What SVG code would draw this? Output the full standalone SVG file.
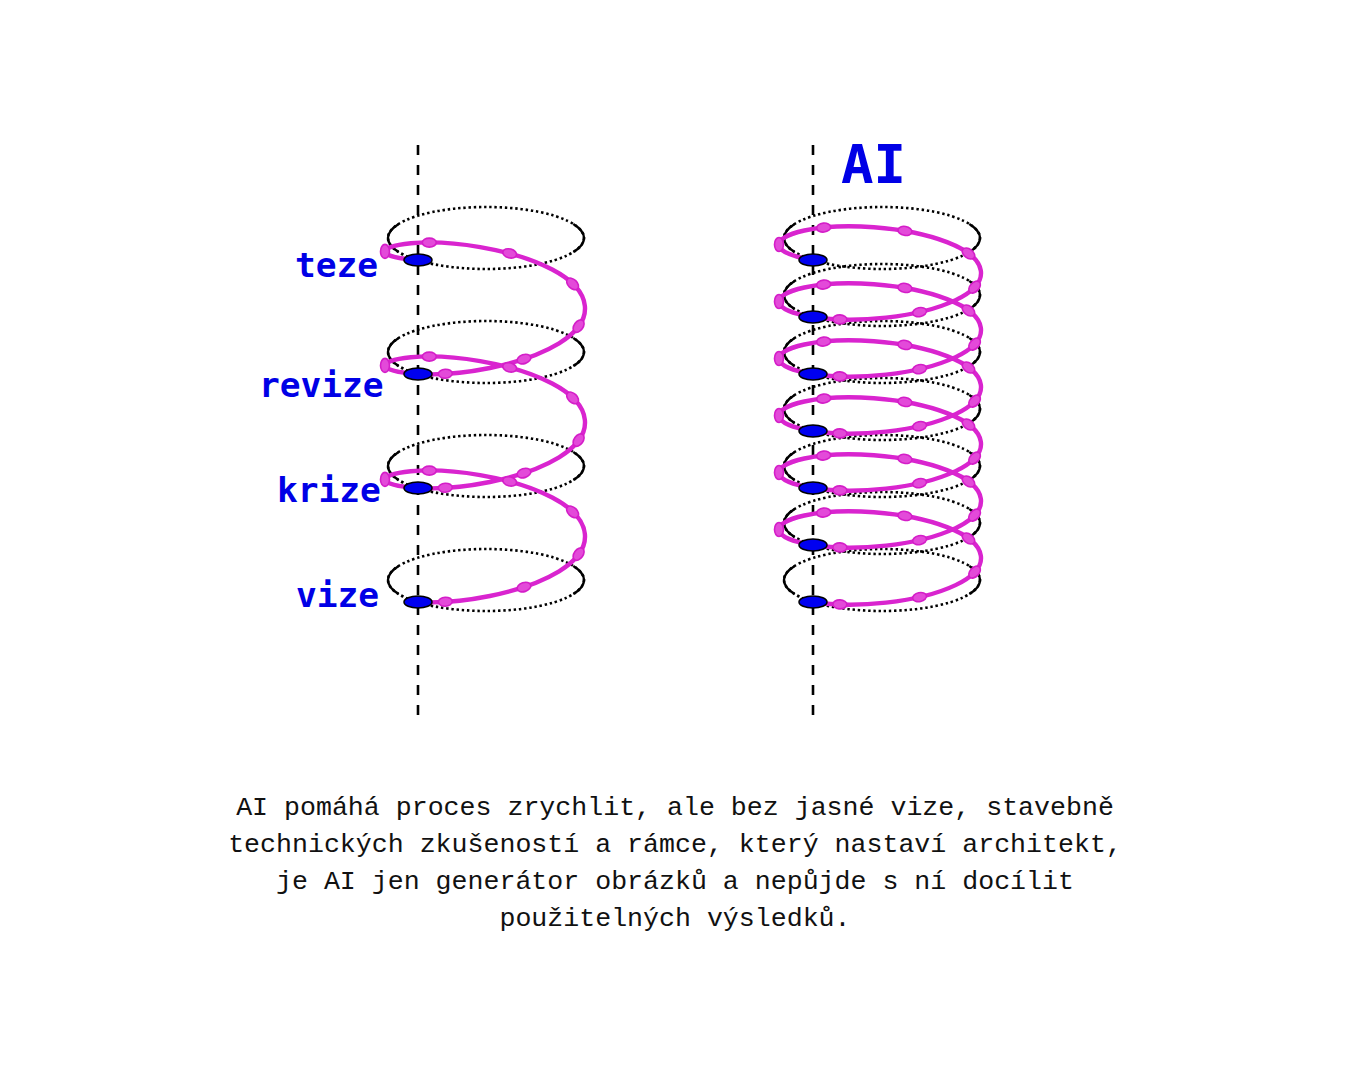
<svg xmlns="http://www.w3.org/2000/svg" xmlns:xlink="http://www.w3.org/1999/xlink" width="1350" height="1080" viewBox="0 0 1350 1080">
<style>
.axis{stroke:#000;stroke-width:2.6;stroke-dasharray:10 10;fill:none}
.dotted{fill:none;stroke:#000;stroke-width:2.6;stroke-dasharray:2.4 2.8}
.solid{fill:none;stroke:#000;stroke-width:2.4}
.helix{fill:none;stroke:#d924cf;stroke-width:4.4;stroke-linecap:round;stroke-linejoin:round}
.pd{fill:#e34ad9;stroke:#d41ec8;stroke-width:1.6}
.bd{fill:#0000f0;stroke:#000;stroke-width:1.5}
.lbl{font-family:"DejaVu Sans Mono",monospace;font-weight:bold;font-size:34.5px;fill:#0000e6}
.ai{font-family:"DejaVu Sans Mono",monospace;font-weight:bold;font-size:54px;fill:#0000e6}
.cap{font-family:"Liberation Mono",monospace;font-size:26.6px;fill:#111;text-anchor:middle}
</style>
<defs>
<g id="ring">
<ellipse cx="0" cy="0" rx="98" ry="31" class="dotted"/>
<path class="solid" d="M-87.3,-14.1 A98,31 0 0 0 -87.3,14.1 M87.3,-14.1 A98,31 0 0 1 87.3,14.1"/>
</g>
<ellipse id="pd" class="pd" cx="0" cy="0" rx="7" ry="4.5"/>
</defs>
<rect width="1350" height="1080" fill="#fff"/>

<g id="left-spiral">
<line class="axis" x1="418" y1="145" x2="418" y2="718"/>
<use xlink:href="#ring" href="#ring" transform="translate(486,238)"/>
<use xlink:href="#ring" href="#ring" transform="translate(486,352)"/>
<use xlink:href="#ring" href="#ring" transform="translate(486,466)"/>
<use xlink:href="#ring" href="#ring" transform="translate(486,580)"/>
<path class="helix" d="M417.81,259.97
c-40.91,-2.37 -43.99,-13.11 -6.88,-16.70 c37.11,-3.59 100.35,4.93 141.26,26.30 c40.91,21.37 43.99,51.11 6.88,73.70 c-37.11,22.59 -100.35,33.07 -141.26,30.70
c-40.91,-2.37 -43.99,-13.11 -6.88,-16.70 c37.11,-3.59 100.35,4.93 141.26,26.30 c40.91,21.37 43.99,51.11 6.88,73.70 c-37.11,22.59 -100.35,33.07 -141.26,30.70
c-40.91,-2.37 -43.99,-13.11 -6.88,-16.70 c37.11,-3.59 100.35,4.93 141.26,26.30 c40.91,21.37 43.99,51.11 6.88,73.70 c-37.11,22.59 -100.35,33.07 -141.26,30.70"/>
<g id="left-markers">
<use href="#pd" xlink:href="#pd" transform="translate(385 251.4) rotate(90)"/><use href="#pd" xlink:href="#pd" transform="translate(429.3 242.6) rotate(0)"/><use href="#pd" xlink:href="#pd" transform="translate(509.7 253.4) rotate(15)"/><use href="#pd" xlink:href="#pd" transform="translate(572.6 283.9) rotate(44)"/><use href="#pd" xlink:href="#pd" transform="translate(578.6 326.1) rotate(-54)"/><use href="#pd" xlink:href="#pd" transform="translate(524 359.1) rotate(-18)"/><use href="#pd" xlink:href="#pd" transform="translate(445.3 373.7) rotate(-3)"/>
<use href="#pd" xlink:href="#pd" transform="translate(385 365.4) rotate(90)"/><use href="#pd" xlink:href="#pd" transform="translate(429.3 356.6) rotate(0)"/><use href="#pd" xlink:href="#pd" transform="translate(509.7 367.4) rotate(15)"/><use href="#pd" xlink:href="#pd" transform="translate(572.6 397.9) rotate(44)"/><use href="#pd" xlink:href="#pd" transform="translate(578.6 440.1) rotate(-54)"/><use href="#pd" xlink:href="#pd" transform="translate(524 473.1) rotate(-18)"/><use href="#pd" xlink:href="#pd" transform="translate(445.3 487.7) rotate(-3)"/>
<use href="#pd" xlink:href="#pd" transform="translate(385 479.4) rotate(90)"/><use href="#pd" xlink:href="#pd" transform="translate(429.3 470.6) rotate(0)"/><use href="#pd" xlink:href="#pd" transform="translate(509.7 481.4) rotate(15)"/><use href="#pd" xlink:href="#pd" transform="translate(572.6 511.9) rotate(44)"/><use href="#pd" xlink:href="#pd" transform="translate(578.6 554.1) rotate(-54)"/><use href="#pd" xlink:href="#pd" transform="translate(524 587.1) rotate(-18)"/><use href="#pd" xlink:href="#pd" transform="translate(445.3 601.7) rotate(-3)"/>
</g>
<ellipse id="dot-teze" class="bd" cx="418" cy="260" rx="14" ry="6"/>
<ellipse id="dot-revize" class="bd" cx="418" cy="374" rx="14" ry="6"/>
<ellipse id="dot-krize" class="bd" cx="418" cy="488" rx="14" ry="6"/>
<ellipse id="dot-vize" class="bd" cx="418" cy="602" rx="14" ry="6"/>
<text class="lbl" x="295" y="277">teze</text>
<text class="lbl" x="259" y="397">revize</text>
<text class="lbl" x="277" y="502">krize</text>
<text class="lbl" x="296" y="607">vize</text>
</g>

<g id="right-spiral">
<line class="axis" x1="813" y1="145" x2="813" y2="718"/>
<use xlink:href="#ring" href="#ring" transform="translate(882,238)"/>
<use xlink:href="#ring" href="#ring" transform="translate(882,295)"/>
<use xlink:href="#ring" href="#ring" transform="translate(882,352)"/>
<use xlink:href="#ring" href="#ring" transform="translate(882,409)"/>
<use xlink:href="#ring" href="#ring" transform="translate(882,466)"/>
<use xlink:href="#ring" href="#ring" transform="translate(882,523)"/>
<use xlink:href="#ring" href="#ring" transform="translate(882,580)"/>
<path class="helix" d="M813,260
c-41.74,-6.61 -45.58,-21.46 -8.58,-29.52 c37,-8.06 100.84,-4.49 142.58,11.62 c41.74,16.11 45.58,40.46 8.58,58.02 c-37,17.56 -100.84,23.49 -142.58,16.88
c-41.74,-6.61 -45.58,-21.46 -8.58,-29.52 c37,-8.06 100.84,-4.49 142.58,11.62 c41.74,16.11 45.58,40.46 8.58,58.02 c-37,17.56 -100.84,23.49 -142.58,16.88
c-41.74,-6.61 -45.58,-21.46 -8.58,-29.52 c37,-8.06 100.84,-4.49 142.58,11.62 c41.74,16.11 45.58,40.46 8.58,58.02 c-37,17.56 -100.84,23.49 -142.58,16.88
c-41.74,-6.61 -45.58,-21.46 -8.58,-29.52 c37,-8.06 100.84,-4.49 142.58,11.62 c41.74,16.11 45.58,40.46 8.58,58.02 c-37,17.56 -100.84,23.49 -142.58,16.88
c-41.74,-6.61 -45.58,-21.46 -8.58,-29.52 c37,-8.06 100.84,-4.49 142.58,11.62 c41.74,16.11 45.58,40.46 8.58,58.02 c-37,17.56 -100.84,23.49 -142.58,16.88
c-41.74,-6.61 -45.58,-21.46 -8.58,-29.52 c37,-8.06 100.84,-4.49 142.58,11.62 c41.74,16.11 45.58,40.46 8.58,58.02 c-37,17.56 -100.84,23.49 -142.58,16.88"/>
<g id="right-markers">
<use href="#pd" xlink:href="#pd" transform="translate(779 244.5) rotate(90)"/><use href="#pd" xlink:href="#pd" transform="translate(823.7 227.6) rotate(-6)"/><use href="#pd" xlink:href="#pd" transform="translate(904.9 230.9) rotate(10)"/><use href="#pd" xlink:href="#pd" transform="translate(968.5 253.5) rotate(37)"/><use href="#pd" xlink:href="#pd" transform="translate(974.6 287.1) rotate(-47)"/><use href="#pd" xlink:href="#pd" transform="translate(919.6 312.1) rotate(-13)"/><use href="#pd" xlink:href="#pd" transform="translate(839.9 319.4) rotate(2)"/>
<use href="#pd" xlink:href="#pd" transform="translate(779 301.5) rotate(90)"/><use href="#pd" xlink:href="#pd" transform="translate(823.7 284.6) rotate(-6)"/><use href="#pd" xlink:href="#pd" transform="translate(904.9 287.9) rotate(10)"/><use href="#pd" xlink:href="#pd" transform="translate(968.5 310.5) rotate(37)"/><use href="#pd" xlink:href="#pd" transform="translate(974.6 344.1) rotate(-47)"/><use href="#pd" xlink:href="#pd" transform="translate(919.6 369.1) rotate(-13)"/><use href="#pd" xlink:href="#pd" transform="translate(839.9 376.4) rotate(2)"/>
<use href="#pd" xlink:href="#pd" transform="translate(779 358.5) rotate(90)"/><use href="#pd" xlink:href="#pd" transform="translate(823.7 341.6) rotate(-6)"/><use href="#pd" xlink:href="#pd" transform="translate(904.9 344.9) rotate(10)"/><use href="#pd" xlink:href="#pd" transform="translate(968.5 367.5) rotate(37)"/><use href="#pd" xlink:href="#pd" transform="translate(974.6 401.1) rotate(-47)"/><use href="#pd" xlink:href="#pd" transform="translate(919.6 426.1) rotate(-13)"/><use href="#pd" xlink:href="#pd" transform="translate(839.9 433.4) rotate(2)"/>
<use href="#pd" xlink:href="#pd" transform="translate(779 415.5) rotate(90)"/><use href="#pd" xlink:href="#pd" transform="translate(823.7 398.6) rotate(-6)"/><use href="#pd" xlink:href="#pd" transform="translate(904.9 401.9) rotate(10)"/><use href="#pd" xlink:href="#pd" transform="translate(968.5 424.5) rotate(37)"/><use href="#pd" xlink:href="#pd" transform="translate(974.6 458.1) rotate(-47)"/><use href="#pd" xlink:href="#pd" transform="translate(919.6 483.1) rotate(-13)"/><use href="#pd" xlink:href="#pd" transform="translate(839.9 490.4) rotate(2)"/>
<use href="#pd" xlink:href="#pd" transform="translate(779 472.5) rotate(90)"/><use href="#pd" xlink:href="#pd" transform="translate(823.7 455.6) rotate(-6)"/><use href="#pd" xlink:href="#pd" transform="translate(904.9 458.9) rotate(10)"/><use href="#pd" xlink:href="#pd" transform="translate(968.5 481.5) rotate(37)"/><use href="#pd" xlink:href="#pd" transform="translate(974.6 515.1) rotate(-47)"/><use href="#pd" xlink:href="#pd" transform="translate(919.6 540.1) rotate(-13)"/><use href="#pd" xlink:href="#pd" transform="translate(839.9 547.4) rotate(2)"/>
<use href="#pd" xlink:href="#pd" transform="translate(779 529.5) rotate(90)"/><use href="#pd" xlink:href="#pd" transform="translate(823.7 512.6) rotate(-6)"/><use href="#pd" xlink:href="#pd" transform="translate(904.9 515.9) rotate(10)"/><use href="#pd" xlink:href="#pd" transform="translate(968.5 538.5) rotate(37)"/><use href="#pd" xlink:href="#pd" transform="translate(974.6 572.1) rotate(-47)"/><use href="#pd" xlink:href="#pd" transform="translate(919.6 597.1) rotate(-13)"/><use href="#pd" xlink:href="#pd" transform="translate(839.9 604.4) rotate(2)"/>
</g>
<ellipse class="bd" cx="813" cy="260" rx="14" ry="6"/>
<ellipse class="bd" cx="813" cy="317" rx="14" ry="6"/>
<ellipse class="bd" cx="813" cy="374" rx="14" ry="6"/>
<ellipse class="bd" cx="813" cy="431" rx="14" ry="6"/>
<ellipse class="bd" cx="813" cy="488" rx="14" ry="6"/>
<ellipse class="bd" cx="813" cy="545" rx="14" ry="6"/>
<ellipse class="bd" cx="813" cy="602" rx="14" ry="6"/>
<text class="ai" x="841" y="183">AI</text>
</g>

<g id="caption">
<text class="cap" x="675" y="815">AI pomáhá proces zrychlit, ale bez jasné vize, stavebně</text>
<text class="cap" x="675" y="852">technických zkušeností a rámce, který nastaví architekt,</text>
<text class="cap" x="675" y="889">je AI jen generátor obrázků a nepůjde s ní docílit</text>
<text class="cap" x="675" y="926">použitelných výsledků.</text>
</g>
</svg>
